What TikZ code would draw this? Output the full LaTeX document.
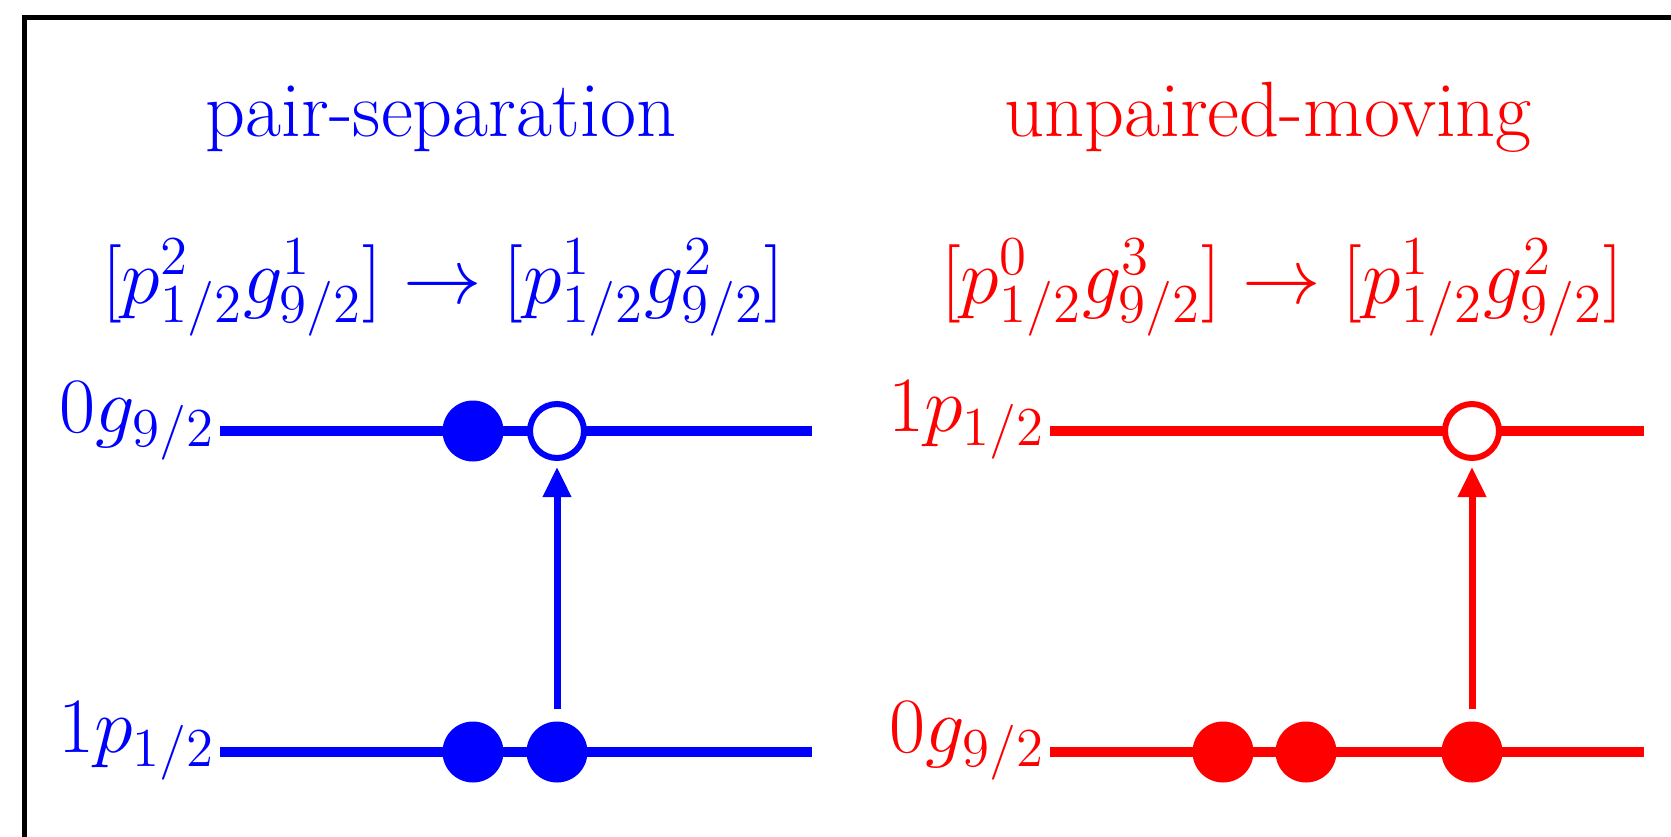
\RequirePackage{fix-cm}
\documentclass[tikz,border=0pt]{standalone}
\usetikzlibrary{arrows.meta}
\begin{document}
\begin{tikzpicture}[x=0.25pt,y=-0.25pt,
  lvl/.style={line width=2.5pt},
  full/.style={circle,fill,inner sep=0pt,minimum size=15.25pt},
  hole/.style={circle,draw,fill=white,line width=1.5pt,inner sep=0pt,minimum size=13.5pt},
  jump/.style={line width=1.75pt,-{Triangle[length=7.5pt,width=6.75pt]},shorten >=1.5pt,shorten <=2.9pt},
  txt/.style={font=\fontsize{19.6}{23}\selectfont,inner sep=0pt}]
\path[use as bounding box,clip] (0,0) rectangle (1671,836);
\draw[line width=1.25pt] (24.5,17.5) rectangle (1720,900);
% left panel (blue)
\begin{scope}[blue]
\node[txt,anchor=base] (t1) at (441,136) {pair-separation};
\node[txt,anchor=base] (f1) at (443,303) {$[p^2_{1/2}g^1_{9/2}]\rightarrow[p^1_{1/2}g^2_{9/2}]$};
\node[txt,anchor=base east] (l1u) at (216,432) {$0g_{9/2}$};
\node[txt,anchor=base east] (l1d) at (216,752) {$1p_{1/2}$};
\coordinate (u1a) at (220,431); \coordinate (u1b) at (812,431);
\coordinate (d1a) at (220,752); \coordinate (d1b) at (812,752);
\draw[lvl] (u1a) -- (u1b);
\draw[lvl] (d1a) -- (d1b);
\node[full] (bu1) at (473,431) {};
\node[hole] (bu2) at (557,431) {};
\node[full] (bd1) at (473,752) {};
\node[full] (bd2) at (557,752) {};
\draw[jump] (bd2.north) -- (bu2.south);
\end{scope}
% right panel (red)
\begin{scope}[red]
\node[txt,anchor=base] (t2) at (1268,136) {unpaired-moving};
\node[txt,anchor=base] (f2) at (1282,303) {$[p^0_{1/2}g^3_{9/2}]\rightarrow[p^1_{1/2}g^2_{9/2}]$};
\node[txt,anchor=base east] (l2u) at (1046,431) {$1p_{1/2}$};
\node[txt,anchor=base east] (l2d) at (1046,752) {$0g_{9/2}$};
\coordinate (u2a) at (1050,431); \coordinate (u2b) at (1644,431);
\coordinate (d2a) at (1050,752); \coordinate (d2b) at (1644,752);
\draw[lvl] (u2a) -- (u2b);
\draw[lvl] (d2a) -- (d2b);
\node[hole] (ru1) at (1472,431) {};
\node[full] (rd1) at (1223,752) {};
\node[full] (rd2) at (1306,752) {};
\node[full] (rd3) at (1472,752) {};
\draw[jump] (rd3.north) -- (ru1.south);
\end{scope}
\end{tikzpicture}
\end{document}
